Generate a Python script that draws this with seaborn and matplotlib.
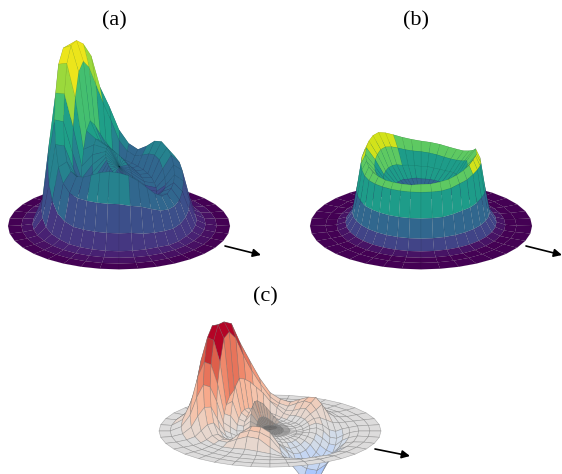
import numpy as np
import matplotlib
matplotlib.use("Agg")
import matplotlib.pyplot as plt
from matplotlib.patches import FancyArrowPatch
import seaborn as sns

# angles run 0, 10, ... 350 degrees; 0 points right, 90 points to the back
ANGLES = np.arange(0, 360, 10)

RADII_A = [0, .12, .24, .34, .42, .50, .58, .64, .70, .78, .88, 1]
HEIGHTS_A = [
    [.58] * 36,
    [.48, .48, .50, .52, .54, .56, .58, .60, .62, .64, .66, .68, .70, .72, .74, .75, .74, .72, .70, .68, .66, .64, .62, .60, .58, .56, .54, .52, .50, .48, .47, .46, .46, .46, .46, .47],
    [.36, .38, .40, .42, .44, .46, .48, .50, .54, .58, .62, .66, .70, .74, .78, .80, .76, .68, .60, .54, .50, .47, .45, .44, .44, .44, .44, .43, .42, .40, .38, .36, .35, .34, .34, .35],
    [.34, .35, .37, .40, .42, .44, .46, .48, .50, .54, .60, .68, .78, .88, .94, .86, .70, .56, .46, .42, .42, .42, .42, .42, .42, .42, .42, .40, .38, .38, .36, .33, .31, .30, .31, .32],
    [.40, .44, .50, .56, .58, .57, .54, .52, .56, .66, .86, 1.04, 1.24, 1.42, 1.50, 1.42, 1.20, .94, .72, .60, .56, .56, .58, .60, .60, .62, .62, .60, .58, .54, .50, .44, .41, .40, .40, .40],
    [.50, .56, .62, .66, .69, .67, .60, .55, .60, .73, .96, 1.16, 1.48, 1.62, 1.68, 1.66, 1.52, 1.26, 1.02, .82, .70, .64, .62, .64, .68, .72, .74, .73, .70, .64, .56, .48, .43, .42, .44, .46],
    [.44, .50, .54, .56, .56, .52, .44, .40, .44, .56, .78, 1.0, 1.34, 1.52, 1.62, 1.62, 1.50, 1.26, 1.04, .84, .66, .54, .48, .46, .46, .46, .46, .46, .44, .42, .38, .34, .32, .32, .34, .38],
    [.24, .26, .28, .28, .26, .22, .18, .16, .20, .28, .40, .54, .70, .84, .92, .94, .88, .76, .62, .46, .34, .26, .22, .20, .20, .20, .20, .20, .20, .18, .17, .16, .15, .16, .18, .21],
    [.06, .06, .06, .05, .05, .04, .04, .04, .05, .06, .09, .12, .16, .20, .22, .24, .24, .22, .18, .13, .09, .07, .06, .05, .05, .05, .05, .05, .05, .05, .05, .04, .04, .05, .05, .06],
    [.02] * 36,
    [.006] * 36,
    [0] * 36,
]

RADII_B = [0, .12, .24, .34, .42, .50, .54, .58, .62, .68, .76, .86, 1]
HEIGHTS_B = [
    [.30] * 36,
    [.31] * 36,
    [.37, .37, .37, .36, .36, .36, .36, .36, .36, .36, .37, .37, .37, .38, .38, .38, .38, .38, .37, .37, .37, .36, .36, .36, .36, .36, .36, .36, .36, .36, .36, .36, .37, .37, .37, .37],
    [.47, .47, .46, .45, .44, .43, .43, .43, .44, .44, .45, .46, .47, .49, .50, .50, .49, .48, .47, .46, .45, .44, .44, .43, .43, .43, .43, .43, .44, .44, .44, .45, .45, .46, .46, .47],
    [.60, .61, .58, .55, .53, .52, .52, .53, .54, .55, .56, .58, .61, .64, .66, .66, .64, .62, .59, .57, .55, .54, .54, .53, .53, .53, .53, .53, .54, .54, .55, .56, .58, .59, .60, .60],
    [.70, .72, .67, .63, .60, .59, .59, .60, .61, .62, .64, .67, .71, .75, .78, .78, .76, .73, .70, .67, .65, .63, .62, .61, .61, .61, .61, .62, .62, .63, .64, .66, .68, .70, .72, .72],
    [.62, .63, .58, .54, .53, .52, .52, .53, .54, .55, .56, .59, .62, .66, .68, .68, .67, .64, .61, .59, .57, .56, .56, .56, .56, .56, .56, .56, .56, .56, .57, .59, .60, .62, .63, .63],
    [.36, .37, .34, .32, .31, .31, .31, .31, .32, .32, .33, .34, .36, .38, .40, .40, .39, .38, .36, .34, .33, .32, .32, .32, .32, .32, .32, .32, .32, .32, .33, .34, .34, .35, .36, .36],
    [.14] * 36,
    [.04] * 36,
    [.012] * 36,
    [.004] * 36,
    [0] * 36,
]

RADII_C = [0, .06, .12, .18, .24, .30, .36, .42, .48, .54, .60, .66, .72, .80, .90, 1]
HEIGHTS_C = [
    [.04] * 36,
    [.03] * 36,
    [0, .01, .01, .01, .02, .02, .03, .03, .05, .06, .08, .09, .10, .10, .10, .09, .07, .05, .03, .02, .01, .01, 0, 0, 0, .01, .01, .01, .01, 0, 0, 0, 0, 0, 0, 0],
    [0, 0, 0, .01, .01, .02, .03, .05, .08, .12, .16, .20, .22, .24, .24, .20, .14, .08, .04, .01, -.01, -.01, -.01, 0, 0, .01, .01, .01, .01, 0, 0, 0, 0, 0, 0, 0],
    [-.01, -.01, 0, 0, .01, .01, .02, .03, .05, .07, .09, .10, .10, .11, .11, .09, .06, .03, 0, -.02, -.03, -.03, -.02, -.01, 0, .01, .02, .02, .01, 0, -.01, -.01, -.01, -.01, -.01, -.01],
    [0, 0, .01, .01, .01, .01, .02, .03, .05, .07, .10, .11, .12, .14, .14, .12, .08, .04, 0, -.03, -.05, -.05, -.04, -.01, .01, .03, .04, .03, .01, -.01, -.02, -.03, -.02, -.01, 0, 0],
    [.02, .03, .04, .05, .05, .05, .04, .05, .10, .16, .24, .30, .36, .40, .42, .36, .24, .12, .04, 0, -.03, -.05, -.05, -.01, .04, .07, .08, .06, .01, -.03, -.06, -.06, -.05, -.03, -.01, .01],
    [.03, .05, .07, .09, .12, .10, .07, .06, .10, .14, .18, .22, .26, .28, .30, .26, .20, .14, .08, .03, 0, -.02, -.02, .02, .10, .14, .16, .10, .02, -.04, -.09, -.10, -.09, -.06, -.03, 0],
    [0, .03, .07, .12, .16, .16, .12, .08, .10, .16, .28, .42, .58, .76, .84, .80, .60, .42, .28, .14, .06, .02, .02, .06, .14, .20, .20, .15, .03, -.06, -.16, -.18, -.16, -.12, -.08, -.04],
    [-.06, -.02, .04, .16, .20, .18, .14, .10, .12, .18, .32, .50, .68, .88, .92, .92, .80, .60, .42, .26, .14, .06, .04, .06, .14, .18, .17, .12, 0, -.12, -.24, -.26, -.22, -.16, -.12, -.09],
    [-.07, -.04, .01, .07, .12, .12, .10, .08, .09, .12, .22, .38, .56, .78, .88, .90, .82, .62, .44, .26, .13, .06, .04, .05, .10, .14, .13, .05, -.02, -.14, -.28, -.33, -.28, -.20, -.14, -.10],
    [-.04, -.02, 0, .03, .05, .05, .05, .04, .04, .06, .11, .22, .36, .50, .60, .64, .60, .48, .32, .18, .08, .03, .02, .02, .03, .04, .03, .01, -.02, -.08, -.16, -.20, -.17, -.12, -.08, -.05],
    [-.015, -.01, 0, .01, .02, .02, .02, .02, .02, .02, .04, .08, .14, .20, .26, .30, .30, .24, .15, .08, .03, .01, .01, .01, .01, .01, .01, 0, -.01, -.03, -.06, -.08, -.07, -.05, -.03, -.02],
    [0, 0, 0, 0, .005, .005, 0, 0, 0, 0, .01, .02, .03, .05, .07, .08, .08, .06, .04, .02, .01, 0, 0, 0, 0, 0, 0, 0, 0, -.01, -.01, -.02, -.02, -.01, -.01, 0],
    [0] * 36,
    [0] * 36,
]

PANEL_LABELS = ["(a)", "(b)", "(c)"]

# colour bands of the two viridis panels, as a share of the highest point
BAND_EDGES_A = [0, .004, .015, .05, .12, .22, .34, .47, .60, .72, .86]
BAND_TONES_A = [0, .04, .09, .16, .24, .33, .44, .56, .70, .85, .97]
BAND_EDGES_B = [0, .02, .05, .115, .26, .47, .70, .85]
BAND_TONES_B = [0, .05, .11, .20, .33, .55, .75, .93]

W_PX, H_PX = 562, 474
UNIT_PX = 111
BOX_ZOOM = 0.7
AX_PX = 2 * UNIT_PX / (0.5948 * BOX_ZOOM)

sns.set_theme(style="white")
viridis = sns.color_palette("viridis", as_cmap=True)
coolwarm = sns.color_palette("coolwarm", as_cmap=True)

fig = plt.figure(figsize=(W_PX / 100, H_PX / 100), dpi=100)


def grid(radii, heights):
    th = np.deg2rad(np.append(ANGLES, 360))
    r = np.array(radii, dtype=float)
    z = np.array(heights, dtype=float)
    z = np.hstack([z, z[:, :1]])
    rr, tt = np.meshgrid(r, th, indexing="ij")
    return rr * np.cos(tt), rr * np.sin(tt), z, rr


def face_heights(z):
    f = (z[:-1, :-1] + z[1:, :-1] + z[:-1, 1:] + z[1:, 1:]) / 4
    return np.pad(f, ((0, 1), (0, 1)), mode="edge")


def draw_surface(cx, cy, elev, radii, heights, colours, edge, lw):
    left = cx - 0.5135 * AX_PX
    bottom = (H_PX - cy) - 0.5135 * AX_PX
    ax = fig.add_axes([left / W_PX, bottom / H_PX, AX_PX / W_PX, AX_PX / H_PX],
                      projection="3d")
    ax.set_proj_type("ortho")
    ax.view_init(elev=elev, azim=-90)
    ax.set_xlim(-1, 1)
    ax.set_ylim(-1, 1)
    ax.set_zlim(-1, 1)
    ax.set_box_aspect((1, 1, 1), zoom=BOX_ZOOM)
    ax.set_axis_off()
    ax.patch.set_alpha(0)
    x, y, z, rr = grid(radii, heights)
    surf = ax.plot_surface(x, y, z, rstride=1, cstride=1, facecolors=colours(z, rr),
                           shade=False, linewidth=lw, antialiased=True)
    surf.set_edgecolor(edge)
    surf.set_linewidth(lw)
    return ax


def viridis_bands(edges, tones):
    def colours(z, rr):
        f = face_heights(z) / z.max()
        idx = np.clip(np.digitize(f, edges) - 1, 0, len(tones) - 1)
        return viridis(np.array(tones)[idx])
    return colours


def coolwarm_bands(z, rr):
    f = np.clip(face_heights(z) / z.max() * 1.15, -1, 1)
    f = np.round((f + 1) / 2 * 24) / 24
    rgba = coolwarm(f)
    # the reference mesh gets so dense near the middle that it reads as dark grey
    dark = np.clip(0.4 + rr / 0.3, 0.4, 1.0)
    rgba[..., :3] *= dark[..., None]
    return rgba


draw_surface(119, 226, 23, RADII_A, HEIGHTS_A, viridis_bands(BAND_EDGES_A, BAND_TONES_A), (0, 0, 0, .12), .3)
draw_surface(421, 226, 23, RADII_B, HEIGHTS_B, viridis_bands(BAND_EDGES_B, BAND_TONES_B), (0, 0, 0, .12), .3)
draw_surface(270, 431, 19, RADII_C, HEIGHTS_C, coolwarm_bands, (.45, .45, .45, .55), .4)

for label, (px, py) in zip(PANEL_LABELS, [(114, 21), (416, 21), (265, 297)]):
    fig.text(px / W_PX, 1 - py / H_PX, label, ha="center", va="center",
             family="Liberation Serif", fontsize=16, color="black")

for (x0, y0), (x1, y1) in [((225, 246), (261, 255)), ((526, 246), (562, 255)), ((375, 449), (410, 456))]:
    fig.add_artist(FancyArrowPatch(
        (x0 / W_PX, 1 - y0 / H_PX), (x1 / W_PX, 1 - y1 / H_PX),
        transform=fig.transFigure, arrowstyle="-|>", mutation_scale=12,
        color="black", lw=1.2, shrinkA=0, shrinkB=0))

fig.savefig("out.png", dpi=100)
